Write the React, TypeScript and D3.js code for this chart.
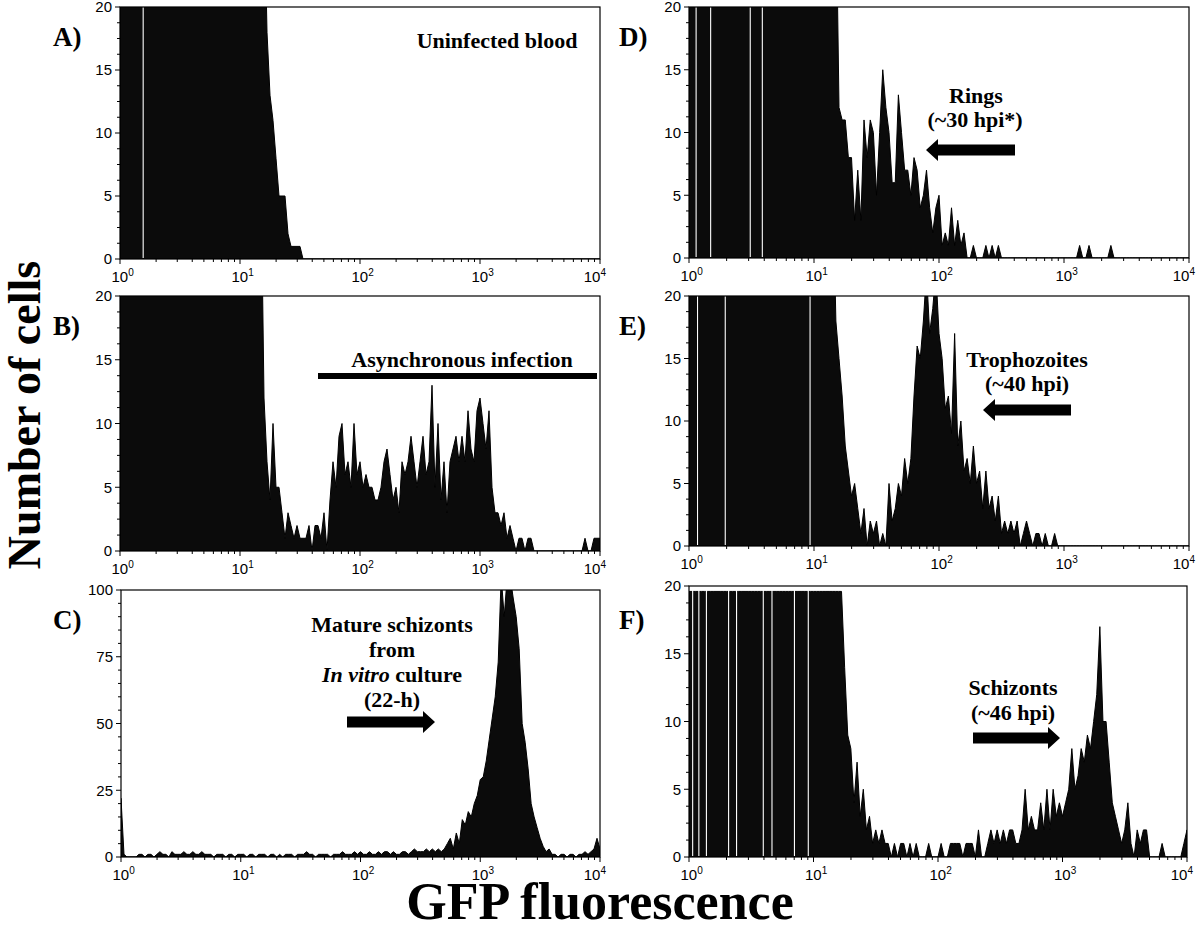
import React from 'react';
import * as d3 from 'd3';

// ---------- data (counts per log-channel, 40 channels per decade, 10^0 .. 10^4) ----------
const binsPerDecade = 40;
const xDomain = [1, 10000];
const xTickExponents = [0, 1, 2, 3, 4];
const yTicks20 = [0, 5, 10, 15, 20];
const yTicks100 = [0, 25, 50, 75, 100];

const countsA = [
  30, 30, 30, 30, 30, 30, 30, 30, 30, 30,
  30, 30, 30, 30, 30, 30, 30, 30, 30, 30,
  30, 30, 30, 30, 30, 30, 30, 30, 30, 30,
  30, 30, 30, 30, 30, 30, 30, 30, 30, 30,
  30, 30, 30, 30, 30, 30, 30, 30, 30, 18,
  13, 11, 8, 5, 5, 5, 2, 1, 1, 1,
  1, 0, 0, 0, 0, 0, 0, 0, 0, 0,
  0, 0, 0, 0, 0, 0, 0, 0, 0, 0,
  0, 0, 0, 0, 0, 0, 0, 0, 0, 0,
  0, 0, 0, 0, 0, 0, 0, 0, 0, 0,
  0, 0, 0, 0, 0, 0, 0, 0, 0, 0,
  0, 0, 0, 0, 0, 0, 0, 0, 0, 0,
  0, 0, 0, 0, 0, 0, 0, 0, 0, 0,
  0, 0, 0, 0, 0, 0, 0, 0, 0, 0,
  0, 0, 0, 0, 0, 0, 0, 0, 0, 0,
  0, 0, 0, 0, 0, 0, 0, 0, 0, 0,
  0,
];

const countsB = [
  30, 30, 30, 30, 30, 30, 30, 30, 30, 30,
  30, 30, 30, 30, 30, 30, 30, 30, 30, 30,
  30, 30, 30, 30, 30, 30, 30, 30, 30, 30,
  30, 30, 30, 30, 30, 30, 30, 30, 30, 30,
  30, 30, 30, 30, 30, 30, 30, 30, 12, 7,
  4, 10, 5, 5, 3, 1, 3, 2, 1, 2,
  1, 1, 1, 2, 0, 2, 2, 1, 3, 0,
  4, 7, 5, 9, 10, 6, 7, 5, 10, 6,
  7, 5, 6, 5, 5, 4, 4, 5, 7, 8,
  6, 4, 5, 3, 7, 6, 7, 9, 7, 5,
  7, 9, 6, 7, 13, 5, 10, 4, 7, 3,
  7, 8, 9, 7, 9, 7, 11, 8, 7, 11,
  12, 10, 8, 11, 5, 3, 3, 2, 3, 1,
  2, 1, 0, 1, 1, 0, 1, 1, 0, 0,
  0, 0, 0, 0, 0, 0, 0, 0, 0, 0,
  0, 0, 0, 0, 0, 1, 0, 0, 1, 1,
  1,
];

const countsC = [
  22, 1, 0, 0, 0, 0, 1, 1, 0, 1,
  1, 0, 1, 2, 1, 1, 0, 2, 1, 1,
  1, 2, 1, 1, 2, 1, 1, 2, 1, 1,
  1, 0, 1, 1, 1, 0, 1, 1, 0, 1,
  1, 1, 0, 1, 1, 0, 1, 1, 1, 0,
  1, 1, 0, 1, 0, 1, 1, 1, 0, 1,
  1, 1, 2, 1, 1, 0, 1, 1, 1, 1,
  0, 1, 1, 1, 2, 1, 1, 1, 2, 1,
  2, 1, 1, 2, 1, 1, 2, 1, 2, 2,
  1, 2, 1, 1, 2, 2, 1, 2, 3, 2,
  2, 2, 3, 2, 3, 2, 3, 2, 3, 5,
  7, 3, 9, 5, 14, 12, 17, 15, 20, 23,
  29, 30, 36, 44, 52, 60, 73, 105, 90, 105,
  105, 97, 90, 78, 50, 43, 33, 20, 15, 11,
  7, 4, 2, 3, 1, 1, 0, 1, 1, 0,
  1, 1, 0, 1, 1, 2, 1, 2, 3, 7,
  3,
];

const countsD = [
  30, 30, 30, 30, 30, 30, 30, 30, 30, 30,
  30, 30, 30, 30, 30, 30, 30, 30, 30, 30,
  30, 30, 30, 30, 30, 30, 30, 30, 30, 30,
  30, 30, 30, 30, 30, 30, 30, 30, 30, 30,
  30, 30, 30, 30, 30, 30, 30, 30, 12, 11,
  11, 8, 8, 3, 7, 3, 11, 8, 11, 10,
  5, 10, 15, 12, 10, 6, 6, 13, 10, 7,
  7, 5, 8, 7, 4, 5, 7, 4, 2, 4,
  5, 1, 2, 1, 4, 1, 3, 1, 2, 0,
  0, 1, 0, 0, 0, 1, 0, 1, 0, 1,
  0, 0, 0, 0, 0, 0, 0, 0, 0, 0,
  0, 0, 0, 0, 0, 0, 0, 0, 0, 0,
  0, 0, 0, 0, 0, 1, 0, 0, 1, 0,
  0, 0, 0, 0, 0, 1, 0, 0, 0, 0,
  0, 0, 0, 0, 0, 0, 0, 0, 0, 0,
  0, 0, 0, 0, 0, 0, 0, 0, 0, 0,
  0,
];

const countsE = [
  30, 30, 30, 30, 30, 30, 30, 30, 30, 30,
  30, 30, 30, 30, 30, 30, 30, 30, 30, 30,
  30, 30, 30, 30, 30, 30, 30, 30, 30, 30,
  30, 30, 30, 30, 30, 30, 30, 30, 30, 30,
  30, 30, 30, 30, 30, 30, 30, 18, 15, 12,
  8, 6, 4, 5, 3, 1, 3, 0, 2, 1,
  2, 0, 1, 0, 5, 2, 3, 5, 4, 7,
  5, 7, 12, 16, 15, 18, 22, 17, 19, 22,
  17, 15, 11, 12, 9, 17, 8, 10, 6, 7,
  5, 8, 5, 6, 3, 6, 3, 4, 2, 4,
  1, 2, 1, 2, 1, 2, 0, 1, 2, 1,
  0, 1, 1, 0, 1, 0, 0, 1, 0, 0,
  0, 0, 0, 0, 0, 0, 0, 0, 0, 0,
  0, 0, 0, 0, 0, 0, 0, 0, 0, 0,
  0, 0, 0, 0, 0, 0, 0, 0, 0, 0,
  0, 0, 0, 0, 0, 0, 0, 0, 0, 0,
  0,
];

const countsF = [
  19.6, 19.6, 19.6, 19.6, 19.6, 19.6, 19.6, 19.6, 19.6, 19.6,
  19.6, 19.6, 19.6, 19.6, 19.6, 19.6, 19.6, 19.6, 19.6, 19.6,
  19.6, 19.6, 19.6, 19.6, 19.6, 19.6, 19.6, 19.6, 19.6, 19.6,
  19.6, 19.6, 19.6, 19.6, 19.6, 19.6, 19.6, 19.6, 19.6, 19.6,
  19.6, 19.6, 19.6, 19.6, 19.6, 19.6, 19.6, 19.6, 19.6, 19.6,
  14, 9, 8, 4, 7, 3, 5, 2, 3, 1,
  2, 1, 2, 1, 1, 0, 1, 0, 1, 1,
  0, 1, 0, 1, 0, 0, 0, 1, 0, 0,
  0, 1, 0, 0, 1, 1, 1, 1, 0, 1,
  1, 1, 0, 2, 0, 0, 1, 2, 1, 2,
  1, 2, 1, 2, 2, 1, 1, 2, 5, 2,
  3, 2, 2, 4, 2, 5, 2, 5, 3, 4,
  3, 4, 5, 8, 5, 6, 8, 7, 9, 8,
  10, 12, 17, 10, 10, 7, 4, 3, 2, 1,
  2, 4, 1, 0, 2, 1, 2, 2, 0, 0,
  0, 0, 1, 0, 0, 0, 0, 0, 0, 1,
  2,
];

// empty (zero-count) channels inside the saturated region, seen as thin white stripes
const emptyChannelsA = [1.56];
const emptyChannelsB: number[] = [];
const emptyChannelsC: number[] = [];
const emptyChannelsD = [1.14, 1.49, 3.09, 3.86];
const emptyChannelsE = [1.17, 1.95, 9.3];
const emptyChannelsF = [1.07, 1.2, 1.38, 2.08, 2.41, 3.95, 4.64, 7.03, 9.08];

// ---------- layout ----------
type Note = { text: React.ReactNode; x: number; y: number };
type Arrow = { from: number; to: number; y: number };
type Panel = {
  letter: string;
  counts: number[];
  empty: number[];
  yMax: number;
  yTicks: number[];
  yMinor: number;
  box: [number, number, number, number];
  letterPos: [number, number];
  notes: Note[];
  arrows: Arrow[];
  bar?: [number, number, number, number];
};

const serif = '"Liberation Serif", "Times New Roman", serif';
const sans = '"Liberation Sans", Arial, Helvetica, sans-serif';

const panels: Panel[] = [
  {
    letter: 'A)', counts: countsA, empty: emptyChannelsA, yMax: 20, yTicks: yTicks20, yMinor: 1.25,
    box: [120, 600, 7, 259], letterPos: [53, 46],
    notes: [{ text: 'Uninfected blood', x: 497, y: 48 }], arrows: [],
  },
  {
    letter: 'B)', counts: countsB, empty: emptyChannelsB, yMax: 20, yTicks: yTicks20, yMinor: 1.25,
    box: [120, 600, 296, 551], letterPos: [53, 335],
    notes: [{ text: 'Asynchronous infection', x: 462, y: 367 }], arrows: [],
    bar: [318, 597, 373, 379],
  },
  {
    letter: 'C)', counts: countsC, empty: emptyChannelsC, yMax: 100, yTicks: yTicks100, yMinor: 5,
    box: [121, 600, 590, 857], letterPos: [53, 629],
    notes: [
      { text: 'Mature schizonts', x: 392, y: 632 },
      { text: 'from', x: 392, y: 657 },
      { text: <><tspan fontStyle="italic">In vitro</tspan> culture</>, x: 392, y: 682 },
      { text: '(22-h)', x: 392, y: 707 },
    ],
    arrows: [{ from: 347, to: 435, y: 722 }],
  },
  {
    letter: 'D)', counts: countsD, empty: emptyChannelsD, yMax: 20, yTicks: yTicks20, yMinor: 1.25,
    box: [689, 1189, 7, 258], letterPos: [619, 46],
    notes: [
      { text: 'Rings', x: 976, y: 103 },
      { text: '(~30 hpi*)', x: 975, y: 127 },
    ],
    arrows: [{ from: 1015, to: 926, y: 150 }],
  },
  {
    letter: 'E)', counts: countsE, empty: emptyChannelsE, yMax: 20, yTicks: yTicks20, yMinor: 1.25,
    box: [689, 1189, 296, 546], letterPos: [619, 335],
    notes: [
      { text: 'Trophozoites', x: 1027, y: 367 },
      { text: '(~40 hpi)', x: 1027, y: 391 },
    ],
    arrows: [{ from: 1071, to: 983, y: 410 }],
  },
  {
    letter: 'F)', counts: countsF, empty: emptyChannelsF, yMax: 20, yTicks: yTicks20, yMinor: 1.25,
    box: [689, 1187, 586, 857], letterPos: [619, 629],
    notes: [
      { text: 'Schizonts', x: 1013, y: 695 },
      { text: '(~46 hpi)', x: 1013, y: 720 },
    ],
    arrows: [{ from: 973, to: 1060, y: 738 }],
  },
];

function arrowPath(a: Arrow): string {
  const dir = a.to > a.from ? 1 : -1;
  const headLen = 12;
  const shaftH = 5.5;
  const headH = 11;
  const base = a.to - dir * headLen;
  return [
    `M${a.from},${a.y - shaftH}`,
    `L${base},${a.y - shaftH}`,
    `L${base},${a.y - headH}`,
    `L${a.to},${a.y}`,
    `L${base},${a.y + headH}`,
    `L${base},${a.y + shaftH}`,
    `L${a.from},${a.y + shaftH}`,
    'Z',
  ].join(' ');
}

function PanelView({ p, idx }: { p: Panel; idx: number }) {
  const [x0, x1, y0, y1] = p.box;
  const x = d3.scaleLog().domain(xDomain).range([x0, x1]);
  const y = d3.scaleLinear().domain([0, p.yMax]).range([y1, y0]);
  const pts: [number, number][] = p.counts.map((c, i) => [Math.pow(10, i / binsPerDecade), c]);
  const area = d3
    .area<[number, number]>()
    .x((d) => x(d[0]))
    .y0(y(0))
    .y1((d) => y(d[1]))
    .curve(d3.curveLinear);
  const clipId = `clip-${idx}`;

  const minorX: number[] = [];
  for (let e = 0; e < 4; e++) for (let m = 2; m <= 9; m++) minorX.push(m * Math.pow(10, e));
  const minorY: number[] = d3.range(0, p.yMax + 1e-9, p.yMinor).filter((v) => !p.yTicks.includes(v));

  return (
    <g>
      <defs>
        <clipPath id={clipId}>
          <rect x={x0} y={y0} width={x1 - x0} height={y1 - y0} />
        </clipPath>
      </defs>
      <g clipPath={`url(#${clipId})`}>
        <path d={area(pts) || ''} fill="#0b0b0b" stroke="#000" strokeWidth={1} strokeLinejoin="miter" />
        {p.empty.map((v) => (
          <line key={`em${v}`} x1={x(v)} x2={x(v)} y1={y1 - 1} y2={y0} stroke="#fff" strokeWidth={1.1} />
        ))}
      </g>
      <rect x={x0} y={y0} width={x1 - x0} height={y1 - y0} fill="none" stroke="#000" strokeWidth={1.2} />
      {/* y ticks */}
      {p.yTicks.map((t) => (
        <g key={`yt${t}`}>
          <line x1={x0 - 5} x2={x0} y1={y(t)} y2={y(t)} stroke="#000" strokeWidth={1} />
          <text x={x0 - 8} y={y(t)} dy="0.36em" textAnchor="end" fontFamily={sans} fontSize={15} fill="#000">
            {t}
          </text>
        </g>
      ))}
      {minorY.map((t) => (
        <line key={`ym${t}`} x1={x0 - 3} x2={x0} y1={y(t)} y2={y(t)} stroke="#000" strokeWidth={1} />
      ))}
      {/* x ticks */}
      {xTickExponents.map((e) => {
        const xv = x(Math.pow(10, e));
        const last = e === xTickExponents[xTickExponents.length - 1];
        return (
          <g key={`xt${e}`}>
            <line x1={xv} x2={xv} y1={y1} y2={y1 + 5} stroke="#000" strokeWidth={1} />
            <text
              x={last ? Math.min(xv + 6, 1197) : xv - 8.5}
              y={y1 + 23}
              textAnchor={last ? 'end' : 'start'}
              fontFamily={sans}
              fontSize={15}
              fill="#000"
            >
              10
              <tspan fontSize={10} dy={-6}>{e}</tspan>
            </text>
          </g>
        );
      })}
      {minorX.map((v) => (
        <line key={`xm${v}`} x1={x(v)} x2={x(v)} y1={y1} y2={y1 + 3} stroke="#000" strokeWidth={1} />
      ))}
      {/* panel letter */}
      <text x={p.letterPos[0]} y={p.letterPos[1]} fontFamily={serif} fontWeight="bold" fontSize={27} fill="#000">
        {p.letter}
      </text>
      {/* annotations */}
      {p.notes.map((n, i) => (
        <text key={`n${i}`} x={n.x} y={n.y} textAnchor="middle" fontFamily={serif} fontWeight="bold" fontSize={22} fill="#000">
          {n.text}
        </text>
      ))}
      {p.bar && <rect x={p.bar[0]} y={p.bar[2]} width={p.bar[1] - p.bar[0]} height={p.bar[3] - p.bar[2]} fill="#000" />}
      {p.arrows.map((a, i) => (
        <path key={`a${i}`} d={arrowPath(a)} fill="#000" />
      ))}
    </g>
  );
}

export default function App() {
  return (
    <svg
      width={1200}
      height={933}
      viewBox="0 0 1200 933"
      style={{ position: 'absolute', left: 0, top: 0, background: '#fff', display: 'block' }}
    >
      <rect x={0} y={0} width={1200} height={933} fill="#fff" />
      {panels.map((p, i) => (
        <PanelView key={p.letter} p={p} idx={i} />
      ))}
      <text
        transform="translate(40,415) rotate(-90)"
        textAnchor="middle"
        fontFamily={serif}
        fontWeight="bold"
        fontSize={46}
        fill="#000"
      >
        Number of cells
      </text>
      <text x={600} y={919} textAnchor="middle" fontFamily={serif} fontWeight="bold" fontSize={52} fill="#000">
        GFP fluorescence
      </text>
    </svg>
  );
}
